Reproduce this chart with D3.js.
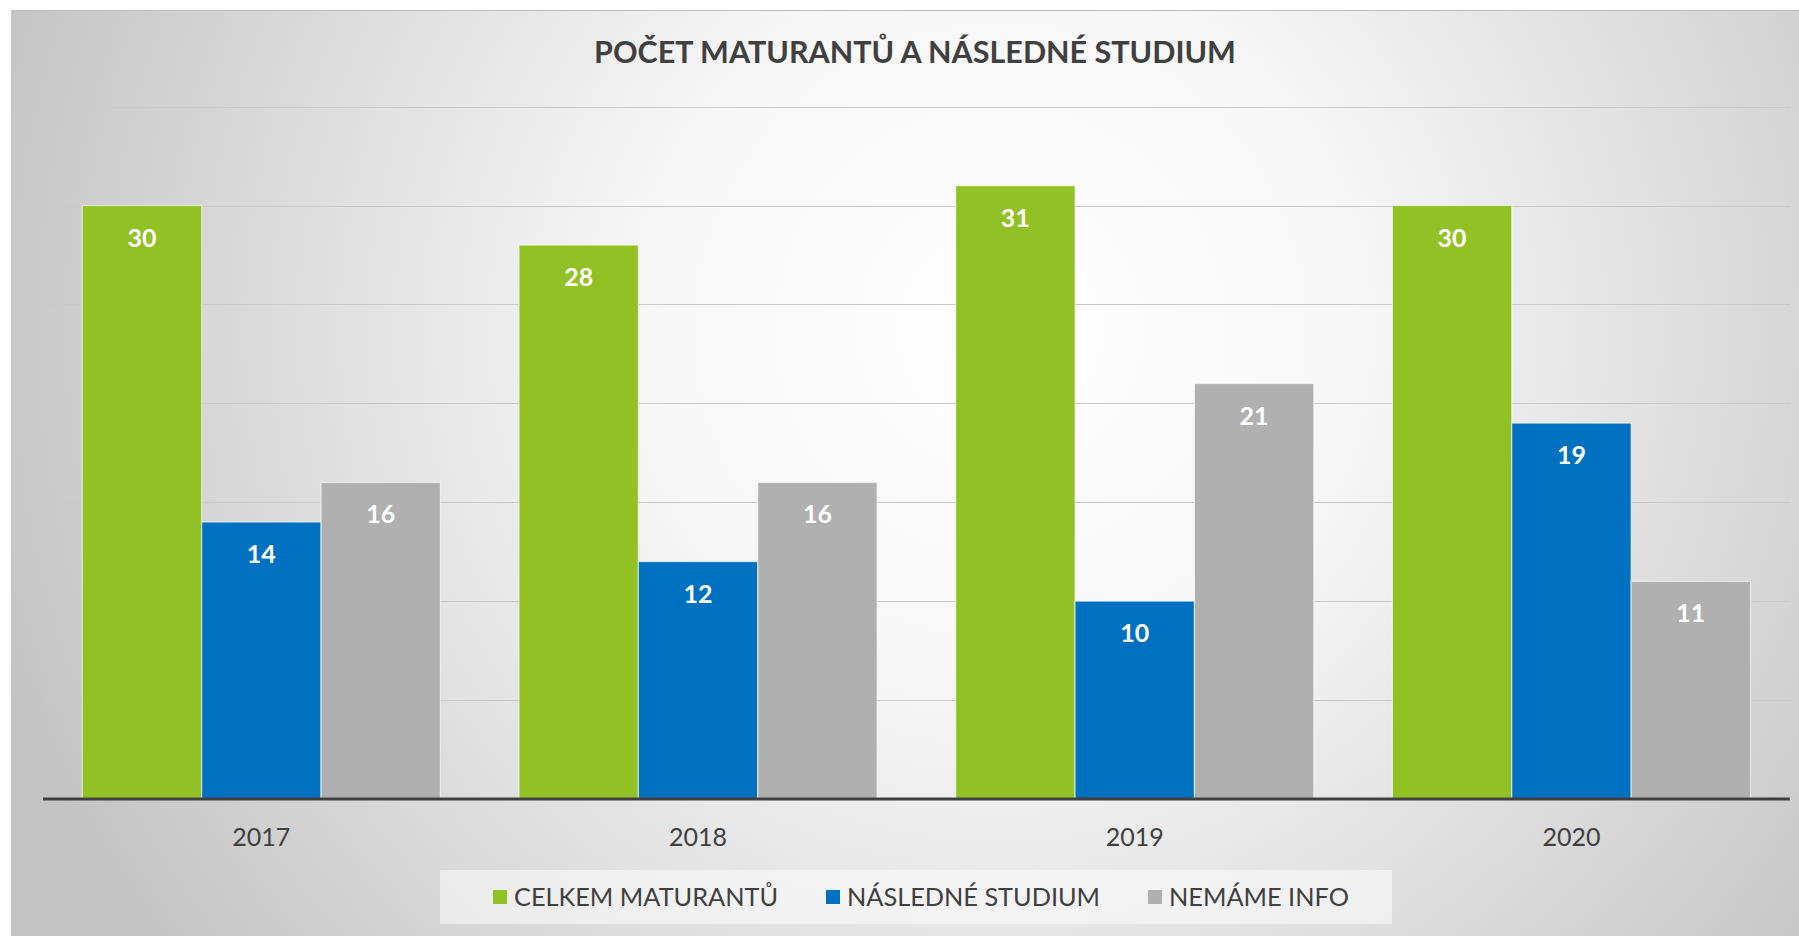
<!DOCTYPE html>
<html><head><meta charset="utf-8">
<script src="https://cdn.jsdelivr.net/npm/d3@7"></script>
<style>html,body{margin:0;padding:0;background:#fff;overflow:hidden}</style>
</head><body>
<svg id="chart" width="1799" height="936"></svg>
<script>
const categories = ["2017", "2018", "2019", "2020"];
const seriesNames = ["CELKEM MATURANTŮ", "NÁSLEDNÉ STUDIUM", "NEMÁME INFO"];
const celkem = [30, 28, 31, 30];
const nasledne = [14, 12, 10, 19];
const nemame = [16, 16, 21, 11];
const gridTicks = [0, 5, 10, 15, 20, 25, 30, 35];
const title = "POČET MATURANTŮ A NÁSLEDNÉ STUDIUM";
const colors = ["#92C125", "#0070C0", "#B0B0B0"];

const seriesValues = [celkem, nasledne, nemame];
const data = categories.map((c, i) => ({cat: c, vals: seriesValues.map((s, k) => ({k, v: s[i]}))}));

const svg = d3.select("#chart");
const font = "Lato, 'Open Sans', sans-serif";

// background
const defs = svg.append("defs");
const rg = defs.append("radialGradient").attr("id", "bg")
  .attr("gradientUnits", "userSpaceOnUse")
  .attr("cx", 1000).attr("cy", 330).attr("r", 1050);
rg.append("stop").attr("offset", "0").attr("stop-color", "#ffffff");
rg.append("stop").attr("offset", "0.35").attr("stop-color", "#f6f6f6");
rg.append("stop").attr("offset", "1").attr("stop-color", "#c4c4c4");
svg.append("rect").attr("x", 11).attr("y", 10).attr("width", 1788).attr("height", 926)
  .attr("fill", "url(#bg)");
svg.append("line").attr("x1", 11).attr("x2", 1799).attr("y1", 10.5).attr("y2", 10.5)
  .attr("stroke", "#bdbdbd").attr("stroke-width", 1);

const pLeft = 43, pRight = 1789.8, pTop = 106.6, pBottom = 799;
const x0 = d3.scaleBand().domain(categories).range([pLeft, pRight]).paddingInner(0.18).paddingOuter(0.09);
const x1 = d3.scaleBand().domain([0, 1, 2]).range([0, x0.bandwidth()]).padding(0);
const y = d3.scaleLinear().domain([0, 35]).range([pBottom, pTop]);

// gridlines
svg.append("g").selectAll("line").data(gridTicks.filter(t => t > 0)).join("line")
  .attr("x1", pLeft).attr("x2", pRight)
  .attr("y1", d => Math.round(y(d)) + 0.5).attr("y2", d => Math.round(y(d)) + 0.5)
  .attr("stroke", "#c9c9c9").attr("stroke-width", 1.2);

// title
svg.append("text").attr("x", 915).attr("y", 63).attr("text-anchor", "middle")
  .attr("font-family", font).attr("font-weight", "bold").attr("font-size", 30.5)
  .attr("fill", "#404040").text(title);

// bars
const groups = svg.append("g").selectAll("g").data(data).join("g")
  .attr("transform", d => `translate(${x0(d.cat)},0)`);
groups.selectAll("rect").data(d => d.vals).join("rect")
  .attr("x", d => x1(d.k)).attr("y", d => y(d.v))
  .attr("width", x1.bandwidth()).attr("height", d => y(0) - y(d.v))
  .attr("fill", d => colors[d.k]).attr("stroke", "rgba(255,255,255,0.6)").attr("stroke-width", 1.2);
groups.selectAll("text").data(d => d.vals).join("text")
  .attr("x", d => x1(d.k) + x1.bandwidth() / 2).attr("y", d => y(d.v) + 41)
  .attr("text-anchor", "middle").attr("font-family", font).attr("font-weight", "bold")
  .attr("font-size", 25).attr("fill", "#ffffff").text(d => d.v);

// baseline axis
const xAxis = d3.axisBottom(x0).tickSize(0).tickPadding(0);
const ax = svg.append("g").attr("transform", `translate(0,${pBottom})`).call(xAxis);
ax.select(".domain").attr("stroke", "#404040").attr("stroke-width", 3)
  .attr("d", `M${pLeft},0H${pRight}`);
ax.selectAll("text").attr("font-family", font).attr("font-size", 25)
  .attr("fill", "#404040").attr("dy", 0).attr("y", 47);

// legend
const lg = svg.append("g");
lg.append("rect").attr("x", 440).attr("y", 870).attr("width", 952).attr("height", 54)
  .attr("fill", "#ffffff").attr("opacity", 0.5);
const legX = [493, 826, 1148];
seriesNames.forEach((n, i) => {
  lg.append("rect").attr("x", legX[i]).attr("y", 890).attr("width", 14).attr("height", 14).attr("fill", colors[i]);
  lg.append("text").attr("x", legX[i] + 21).attr("y", 906).attr("font-family", font)
    .attr("font-size", 25.3).attr("fill", "#404040").text(n);
});
</script>
</body></html>
